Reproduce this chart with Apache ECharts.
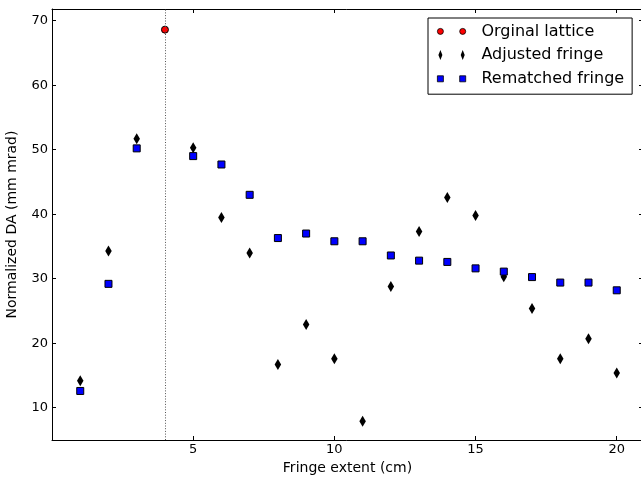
<!DOCTYPE html>
<html>
<head>
<meta charset="utf-8">
<script src="https://cdn.jsdelivr.net/npm/echarts@6/dist/echarts.min.js"></script>
<style>
html,body{margin:0;padding:0;background:#fff;}
#chart{width:641px;height:479px;}
</style>
</head>
<body>
<div id="chart"></div>
<script>
// ---- data ----
var originalX = [4];
var originalY = [68.6];

var fringeX = [1, 2, 3, 5, 6, 7, 8, 9, 10, 11, 12, 13, 14, 15, 16, 17, 18, 19, 20];
var adjustedY = [14.2, 34.3, 51.7, 50.3, 39.5, 34.0, 16.7, 22.9, 17.6, 7.9, 28.8, 37.3, 42.6, 39.8, 30.3, 25.4, 17.6, 20.7, 15.4];
var rematchedY = [12.6, 29.2, 50.2, 49.0, 47.7, 43.0, 36.3, 37.0, 35.8, 35.8, 33.6, 32.8, 32.6, 31.6, 31.1, 30.25, 29.4, 29.4, 28.2];

var xTicks = [5, 10, 15, 20];
var yTicks = [10, 20, 30, 40, 50, 60, 70];
var markerLineX = 4;

var seriesNames = ['Orginal lattice', 'Adjusted fringe', 'Rematched fringe'];
var xTitle = 'Fringe extent (cm)';
var yTitle = 'Normalized DA (mm mrad)';

function pairs(xs, ys) {
  return xs.map(function (x, i) { return [x, ys[i]]; });
}

var FONT = 'DejaVu Sans';
var X_MIN = 0, X_MAX = 20.93, Y_MIN = 5, Y_MAX = 71.8;

function xAxisDef(pos, showLabels) {
  return {
    type: 'value', position: pos, min: X_MIN, max: X_MAX,
    splitLine: { show: false },
    axisLine: { show: true, onZero: false, lineStyle: { color: '#000', width: 1 } },
    axisTick: { show: true, inside: true, length: 4, customValues: xTicks, lineStyle: { color: '#000', width: 1 } },
    axisLabel: { show: showLabels, customValues: xTicks, margin: 3, color: '#000', fontSize: 13, fontFamily: FONT },
    name: showLabels ? xTitle : '',
    nameLocation: 'middle', nameGap: 18,
    nameTextStyle: { color: '#000', fontSize: 14, fontFamily: FONT }
  };
}
function yAxisDef(pos, showLabels) {
  return {
    type: 'value', position: pos, min: Y_MIN, max: Y_MAX,
    splitLine: { show: false },
    axisLine: { show: true, onZero: false, lineStyle: { color: '#000', width: 1 } },
    axisTick: { show: true, inside: true, length: 4, customValues: yTicks, lineStyle: { color: '#000', width: 1 } },
    axisLabel: { show: showLabels, customValues: yTicks, margin: 4, color: '#000', fontSize: 13, fontFamily: FONT },
    name: showLabels ? yTitle : '',
    nameLocation: 'middle', nameGap: 33,
    nameTextStyle: { color: '#000', fontSize: 14, fontFamily: FONT }
  };
}

var iconCircle = 'path://M0,0L0,0M40,16L40,16M7,8A3,3,0,1,1,1,8A3,3,0,1,1,7,8ZM29.3,8A3,3,0,1,1,23.3,8A3,3,0,1,1,29.3,8Z';
var iconDiamond = 'path://M0,0L0,0M40,16L40,16M4,3L6,8L4,13L2,8ZM26.3,3L28.3,8L26.3,13L24.3,8Z';
var iconSquare = 'path://M0,0L0,0M40,16L40,16M1,5L7,5L7,11L1,11ZM23.3,5L29.3,5L29.3,11L23.3,11Z';

var chart = echarts.init(document.getElementById('chart'), null, { renderer: 'canvas' });
chart.setOption({
  animation: false,
  backgroundColor: '#fff',
  textStyle: { fontFamily: FONT },
  grid: { left: 52, right: -2, top: 9, bottom: 39, containLabel: false, outerBoundsMode: 'none' },
  xAxis: [xAxisDef('bottom', true), xAxisDef('top', false)],
  yAxis: [yAxisDef('left', true), yAxisDef('right', false)],
  legend: {
    show: true, orient: 'vertical', left: 428, top: 18,
    itemWidth: 40, itemHeight: 16, itemGap: 7.3,
    padding: [5, 8, 7, 8],
    borderColor: '#000', borderWidth: 1, borderRadius: 0,
    backgroundColor: '#fff',
    selectedMode: false,
    textStyle: { fontSize: 16, lineHeight: 16, color: '#000', fontFamily: FONT },
    data: [
      { name: seriesNames[0], icon: iconCircle, itemStyle: { color: '#ff0000', borderColor: '#000', borderWidth: 0.8 } },
      { name: seriesNames[1], icon: iconDiamond, itemStyle: { color: '#000', borderWidth: 0 } },
      { name: seriesNames[2], icon: iconSquare, itemStyle: { color: '#0000ff', borderColor: '#000', borderWidth: 0.8 } }
    ]
  },
  series: [
    {
      name: seriesNames[0], type: 'scatter',
      data: pairs(originalX, originalY),
      symbol: 'circle', symbolSize: 7,
      itemStyle: { color: '#ff0000', borderColor: '#000', borderWidth: 1, opacity: 1 },
      emphasis: { disabled: true },
      markLine: {
        silent: true, symbol: ['none', 'none'],
        label: { show: false },
        lineStyle: { color: '#555', width: 1, type: [1, 1.7] },
        data: [{ xAxis: markerLineX }]
      }
    },
    {
      name: seriesNames[1], type: 'scatter',
      data: pairs(fringeX, adjustedY),
      symbol: 'diamond', symbolSize: [6.5, 11],
      itemStyle: { color: '#000', opacity: 1 },
      emphasis: { disabled: true }
    },
    {
      name: seriesNames[2], type: 'scatter',
      data: pairs(fringeX, rematchedY),
      symbol: 'rect', symbolSize: 7,
      itemStyle: { color: '#0000ff', borderColor: '#000', borderWidth: 1, opacity: 1 },
      emphasis: { disabled: true }
    }
  ]
});
</script>
</body>
</html>
